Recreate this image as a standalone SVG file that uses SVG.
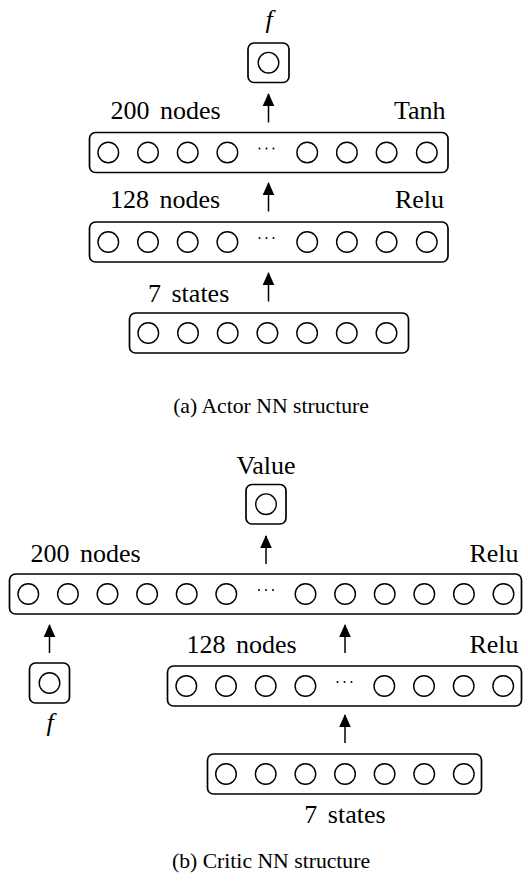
<svg xmlns="http://www.w3.org/2000/svg" width="528" height="894" viewBox="0 0 528 894">
<style>
.box{fill:none;stroke:#000;stroke-width:1.7}
.n{fill:none;stroke:#000;stroke-width:1.4}
text{fill:#000}
.lbl{font-size:26px;word-spacing:4px}
.it{font-size:26px;font-style:italic}
.cap{font-size:21.7px}
.dots{fill:#000}
.arr{stroke:#000;stroke-width:1.5;fill:none;marker-end:url(#ah)}
</style>
<defs>
<marker id="ah" markerUnits="userSpaceOnUse" markerWidth="14" markerHeight="14" viewBox="0 0 14 14" refX="12" refY="7" orient="auto">
<path d="M0,1.2 L13,7 L0,12.8 Z" fill="#000"/>
</marker>
<g id="dd"><circle cx="-7" cy="0" r="1" class="dots"/><circle cx="0" cy="0" r="1" class="dots"/><circle cx="7" cy="0" r="1" class="dots"/></g>
</defs>
<g font-family="'Liberation Serif', 'Times New Roman', 'DejaVu Serif', serif">
<!-- (a) Actor -->
<g id="a_out">
<rect class="box" x="248" y="43" width="41" height="39.5" rx="6"/>
<circle class="n" cx="268.5" cy="62.7" r="10.3"/>
<text class="it" x="269" y="27.5" text-anchor="middle">f</text>
</g>
<g id="a_l200">
<rect class="box" x="89.5" y="132.5" width="358.5" height="40" rx="6"/>
<circle class="n" cx="108.3" cy="152.5" r="10.3"/>
<circle class="n" cx="148" cy="152.5" r="10.3"/>
<circle class="n" cx="187.7" cy="152.5" r="10.3"/>
<circle class="n" cx="227.4" cy="152.5" r="10.3"/>
<use href="#dd" x="266.5" y="148.5"/>
<circle class="n" cx="307.2" cy="152.5" r="10.3"/>
<circle class="n" cx="346.9" cy="152.5" r="10.3"/>
<circle class="n" cx="386.6" cy="152.5" r="10.3"/>
<circle class="n" cx="426.8" cy="152.5" r="10.3"/>
<text class="lbl" x="110.5" y="119">200 nodes</text>
<text class="lbl" x="445.5" y="119" text-anchor="end">Tanh</text>
</g>
<g id="a_l128">
<rect class="box" x="89.5" y="222" width="358.5" height="40" rx="6"/>
<circle class="n" cx="108.3" cy="242" r="10.3"/>
<circle class="n" cx="148" cy="242" r="10.3"/>
<circle class="n" cx="187.7" cy="242" r="10.3"/>
<circle class="n" cx="227.4" cy="242" r="10.3"/>
<use href="#dd" x="266.5" y="238"/>
<circle class="n" cx="307.2" cy="242" r="10.3"/>
<circle class="n" cx="346.9" cy="242" r="10.3"/>
<circle class="n" cx="386.6" cy="242" r="10.3"/>
<circle class="n" cx="426.8" cy="242" r="10.3"/>
<text class="lbl" x="110" y="208">128 nodes</text>
<text class="lbl" x="444" y="208" text-anchor="end">Relu</text>
</g>
<g id="a_in">
<rect class="box" x="129.5" y="313" width="279" height="40" rx="6"/>
<circle class="n" cx="148.3" cy="333" r="10.3"/>
<circle class="n" cx="188" cy="333" r="10.3"/>
<circle class="n" cx="227.7" cy="333" r="10.3"/>
<circle class="n" cx="267.4" cy="333" r="10.3"/>
<circle class="n" cx="307.1" cy="333" r="10.3"/>
<circle class="n" cx="346.8" cy="333" r="10.3"/>
<circle class="n" cx="386.5" cy="333" r="10.3"/>
<text class="lbl" x="148" y="301.5">7 states</text>
</g>
<text class="cap" x="271" y="413" text-anchor="middle">(a) Actor NN structure</text>

<!-- (b) Critic -->
<g id="b_out">
<rect class="box" x="246" y="484.5" width="40" height="39.5" rx="6"/>
<circle class="n" cx="266" cy="504.2" r="10.3"/>
<text class="lbl" x="266" y="474" text-anchor="middle">Value</text>
</g>
<g id="b_l200">
<rect class="box" x="9.5" y="574" width="512" height="40" rx="6"/>
<circle class="n" cx="28.3" cy="594" r="10.3"/>
<circle class="n" cx="67.9" cy="594" r="10.3"/>
<circle class="n" cx="107.5" cy="594" r="10.3"/>
<circle class="n" cx="147.1" cy="594" r="10.3"/>
<circle class="n" cx="186.7" cy="594" r="10.3"/>
<circle class="n" cx="226.3" cy="594" r="10.3"/>
<use href="#dd" x="266" y="590"/>
<circle class="n" cx="305.5" cy="594" r="10.3"/>
<circle class="n" cx="345.1" cy="594" r="10.3"/>
<circle class="n" cx="384.7" cy="594" r="10.3"/>
<circle class="n" cx="424.3" cy="594" r="10.3"/>
<circle class="n" cx="463.9" cy="594" r="10.3"/>
<circle class="n" cx="503.5" cy="594" r="10.3"/>
<text class="lbl" x="30.5" y="562">200 nodes</text>
<text class="lbl" x="518.5" y="562" text-anchor="end">Relu</text>
</g>
<g id="b_f">
<rect class="box" x="29.5" y="663" width="40" height="40" rx="6"/>
<circle class="n" cx="49.5" cy="683" r="10.3"/>
<text class="it" x="50" y="731" text-anchor="middle">f</text>
</g>
<g id="b_l128">
<rect class="box" x="167.5" y="666" width="354" height="40" rx="6"/>
<circle class="n" cx="186.3" cy="686" r="10.3"/>
<circle class="n" cx="226" cy="686" r="10.3"/>
<circle class="n" cx="265.7" cy="686" r="10.3"/>
<circle class="n" cx="305.4" cy="686" r="10.3"/>
<use href="#dd" x="344.5" y="682"/>
<circle class="n" cx="384.3" cy="686" r="10.3"/>
<circle class="n" cx="424" cy="686" r="10.3"/>
<circle class="n" cx="463.7" cy="686" r="10.3"/>
<circle class="n" cx="503.2" cy="686" r="10.3"/>
<text class="lbl" x="186.5" y="653">128 nodes</text>
<text class="lbl" x="518.5" y="653" text-anchor="end">Relu</text>
</g>
<g id="b_in">
<rect class="box" x="207.5" y="754" width="274" height="40" rx="6"/>
<circle class="n" cx="226" cy="774" r="10.3"/>
<circle class="n" cx="265.7" cy="774" r="10.3"/>
<circle class="n" cx="305.4" cy="774" r="10.3"/>
<circle class="n" cx="345" cy="774" r="10.3"/>
<circle class="n" cx="384.6" cy="774" r="10.3"/>
<circle class="n" cx="424.2" cy="774" r="10.3"/>
<circle class="n" cx="463.8" cy="774" r="10.3"/>
<text class="lbl" x="345" y="823" text-anchor="middle">7 states</text>
</g>
<text class="cap" x="271" y="868" text-anchor="middle">(b) Critic NN structure</text>
</g>
<g id="connectors">
<line class="arr" x1="268.5" y1="122.5" x2="268.5" y2="94"/>
<line class="arr" x1="268.5" y1="211.5" x2="268.5" y2="183"/>
<line class="arr" x1="268.5" y1="301.5" x2="268.5" y2="273"/>
<line class="arr" x1="266" y1="564" x2="266" y2="536"/>
<line class="arr" x1="49.5" y1="653" x2="49.5" y2="625"/>
<line class="arr" x1="345" y1="653" x2="345" y2="625"/>
<line class="arr" x1="345" y1="743" x2="345" y2="715"/>
</g>
</svg>
